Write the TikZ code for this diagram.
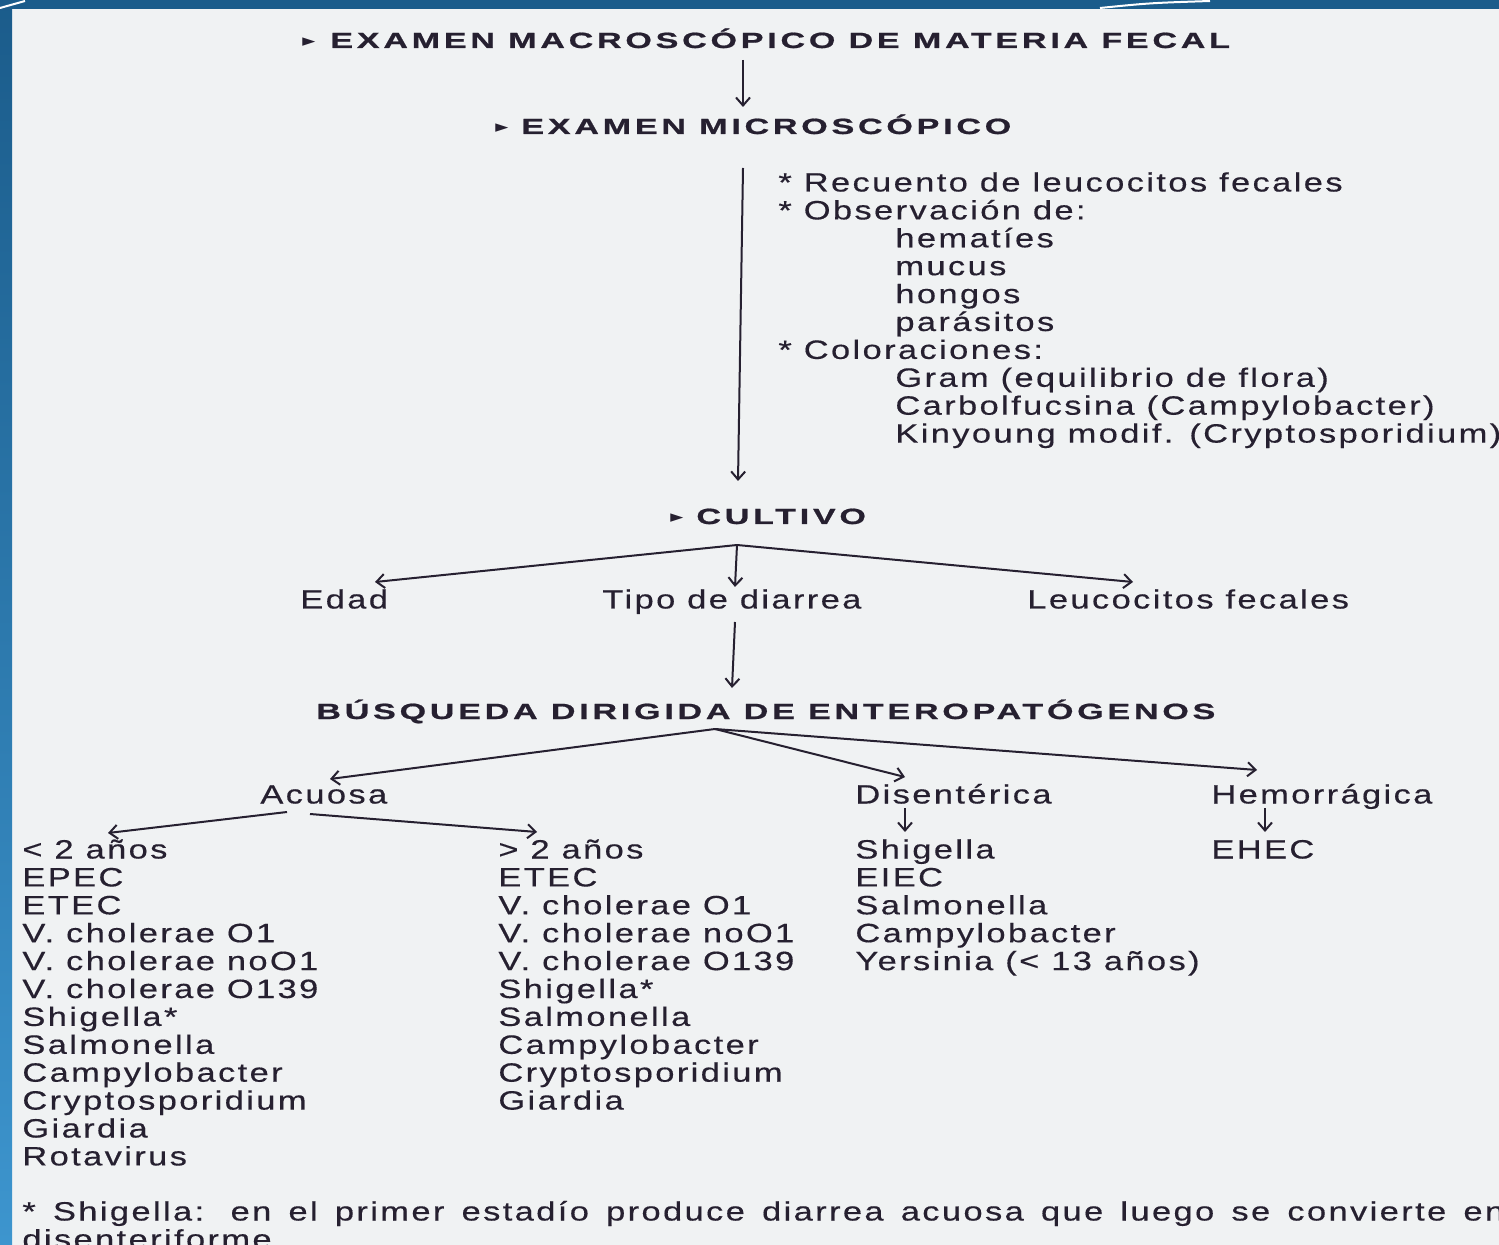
\documentclass[tikz,border=0pt]{standalone}
\usepackage{fontspec}
\usetikzlibrary{arrows.meta}
\newfontfamily\regf[FakeStretch=1.3,LetterSpace=9,FakeBold=0.4]{Liberation Sans}
\newfontfamily\headf[FakeStretch=1.55,LetterSpace=17,FakeBold=0.8]{Liberation Sans Bold}
\newfontfamily\symf{DejaVu Sans}
\definecolor{ink}{HTML}{262030}
\definecolor{paper}{HTML}{F0F2F3}
\definecolor{frameA}{HTML}{1B5C8B}
\definecolor{frameB}{HTML}{3D95CE}
\newcommand{\tri}[1]{\makebox[#1][l]{\raisebox{0.8pt}{\symf\fontsize{8.5}{8.5}\selectfont ►}}}
\newcommand{\lst}[1]{\begin{tabular}[t]{@{}l@{}}#1\end{tabular}}
\tikzset{
  txt/.style={anchor=base west, inner sep=0pt, text=ink,
    font=\regf\fontsize{13.25}{13.95}\selectfont},
  head/.style={anchor=base west, inner sep=0pt, text=ink,
    font=\headf\fontsize{11}{13}\selectfont},
  arr/.style={draw=ink, line width=1pt,
    -{Straight Barb[length=4pt,width=7pt,line width=1pt]}},
}
\begin{document}
\begin{tikzpicture}[x=0.5pt,y=-0.5pt]
\useasboundingbox (0,0) rectangle (1499,1245);
\clip (0,0) rectangle (1499,1245);
% background
\fill[paper] (0,0) rectangle (1499,1245);
\shade[top color=frameA, bottom color=frameB] (0,0) rectangle (12,1245);
\fill[frameA] (0,0) rectangle (1499,9);
\draw[white, line width=1pt] (0,8) -- (25,1);
\draw[white, line width=1pt] (1100,8) .. controls (1150,3) .. (1210,1);

% headers
\node[head] (macro) at (302,48) {\tri{14pt}EXAMEN MACROSCÓPICO DE MATERIA FECAL};
\node[head] (micro) at (495,134) {\tri{13pt}EXAMEN MICROSCÓPICO};
\node[txt] (obs) at (778,191.5) {\lst{{*} Recuento de leucocitos fecales\\
{*} Observación de:\\
\hspace*{58.5pt}hematíes\\
\hspace*{58.5pt}mucus\\
\hspace*{58.5pt}hongos\\
\hspace*{58.5pt}parásitos\\
{*} Coloraciones:\\
\hspace*{58.5pt}Gram (equilibrio de flora)\\
\hspace*{58.5pt}Carbolfucsina (Campylobacter)\\
\hspace*{58.5pt}Kinyoung modif. (Cryptosporidium)}};
\node[head] (cultivo) at (670,524) {\tri{13pt}CULTIVO};
\node[txt] (edad) at (300,608.5) {Edad};
\node[txt] (tipo) at (602,608.5) {Tipo de diarrea};
\node[txt] (leuco) at (1027,608.5) {Leucocitos fecales};
\node[head] (busq) at (316,719) {BÚSQUEDA DIRIGIDA DE ENTEROPATÓGENOS};
\node[txt] (acuosa) at (260,803.5) {Acuosa};
\node[txt] (disent) at (855,803.5) {Disentérica};
\node[txt] (hemo) at (1211,803.5) {Hemorrágica};
\node[txt] (menor) at (22,858.5) {\lst{< 2 años\\EPEC\\ETEC\\V. cholerae O1\\V. cholerae noO1\\V. cholerae O139\\Shigella*\\Salmonella\\Campylobacter\\Cryptosporidium\\Giardia\\Rotavirus}};
\node[txt] (mayor) at (498,858.5) {\lst{> 2 años\\ETEC\\V. cholerae O1\\V. cholerae noO1\\V. cholerae O139\\Shigella*\\Salmonella\\Campylobacter\\Cryptosporidium\\Giardia}};
\node[txt] (dlist) at (855,858.5) {\lst{Shigella\\EIEC\\Salmonella\\Campylobacter\\Yersinia (< 13 años)}};
\node[txt] (hlist) at (1211,858.5) {EHEC};
\node[txt] (foot) at (22,1220.5) {\lst{\hbox to 741pt{{*} Shigella: en el primer estadío produce diarrea acuosa que luego se convierte en}\\disenteriforme.}};

% connectors
\draw[arr] ([shift={(441,12)}]macro.base west) -- ([shift={(248,-27)}]micro.base west);
\draw[arr] ([shift={(248,34)}]micro.base west) -- ([shift={(68,-43)}]cultivo.base west);
\coordinate (cb) at ([shift={(67,21)}]cultivo.base west);
\draw[arr] (cb) -- ([shift={(75,-26.5)}]edad.base west);
\draw[arr] (cb) -- ([shift={(133,-21.5)}]tipo.base west);
\draw[arr] (cb) -- ([shift={(106,-26.5)}]leuco.base west);
\draw[arr] ([shift={(133,13.5)}]tipo.base west) -- ([shift={(416,-31)}]busq.base west);
\coordinate (bb) at ([shift={(399,10)}]busq.base west);
\draw[arr] (bb) -- ([shift={(70,-24.5)}]acuosa.base west);
\draw[arr] (bb) -- ([shift={(50,-26.5)}]disent.base west);
\draw[arr] (bb) -- ([shift={(46,-33.5)}]hemo.base west);
\draw[arr] ([shift={(27,8.5)}]acuosa.base west) -- ([shift={(86,-25.5)}]menor.base west);
\draw[arr] ([shift={(50,10.5)}]acuosa.base west) -- ([shift={(39,-26.5)}]mayor.base west);
\draw[arr] ([shift={(50,4.5)}]disent.base west) -- ([shift={(50,-26.5)}]dlist.base west);
\draw[arr] ([shift={(54,4.5)}]hemo.base west) -- ([shift={(54,-26.5)}]hlist.base west);
\end{tikzpicture}
\end{document}
